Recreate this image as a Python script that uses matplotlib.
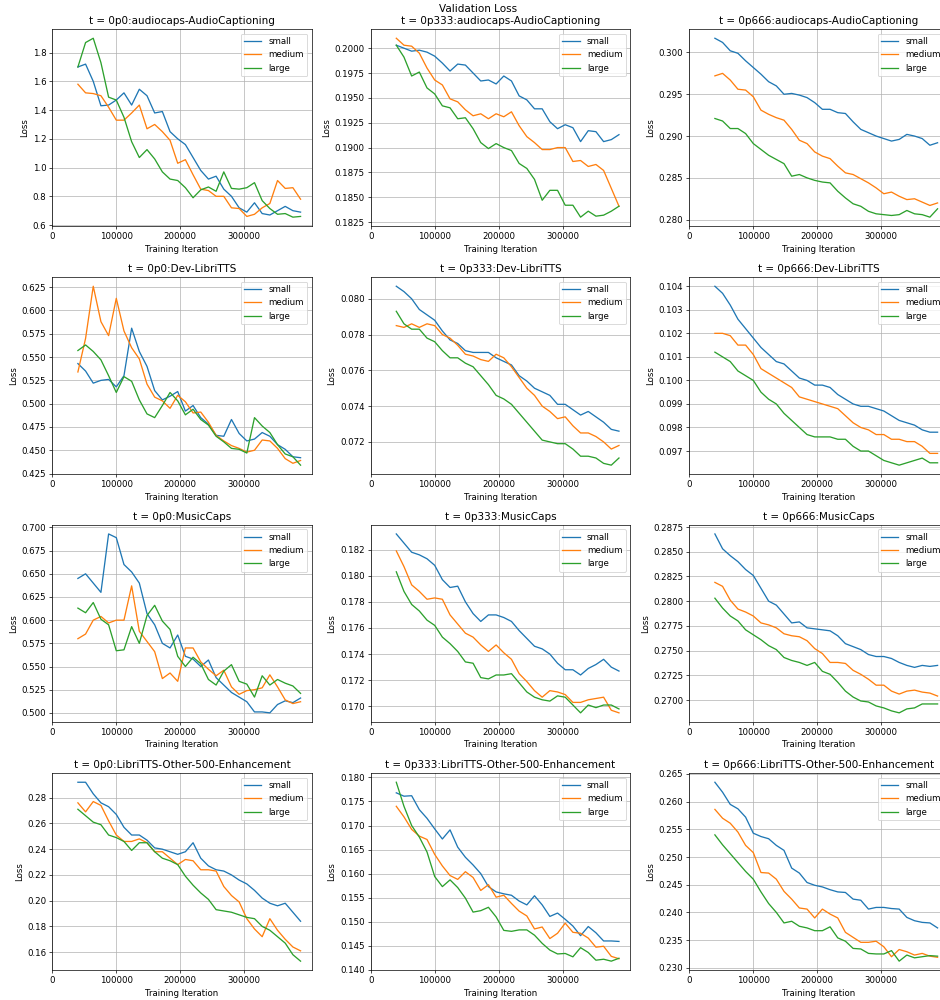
import numpy as np
from matplotlib import pyplot as plt

# Training iterations (shared by every curve)
iterations = [40000 + 12000 * k for k in range(30)]

temperatures = ["0p0", "0p333", "0p666"]
datasets = ["audiocaps-AudioCaptioning", "Dev-LibriTTS", "MusicCaps",
            "LibriTTS-Other-500-Enhancement"]
models = ["small", "medium", "large"]

# audiocaps-AudioCaptioning
audiocaps_0p0_small = [1.70, 1.72, 1.60, 1.43, 1.435, 1.47, 1.52, 1.435, 1.545, 1.50,
                       1.38, 1.39, 1.25, 1.20, 1.16, 1.07, 0.98, 0.92, 0.94, 0.85,
                       0.80, 0.72, 0.69, 0.755, 0.68, 0.67, 0.70, 0.73, 0.70, 0.69]
audiocaps_0p0_medium = [1.58, 1.52, 1.515, 1.50, 1.42, 1.33, 1.33, 1.38, 1.435, 1.27,
                        1.30, 1.25, 1.19, 1.03, 1.055, 0.95, 0.85, 0.84, 0.80, 0.80,
                        0.72, 0.715, 0.66, 0.675, 0.72, 0.75, 0.91, 0.855, 0.86, 0.78]
audiocaps_0p0_large = [1.70, 1.87, 1.90, 1.73, 1.49, 1.47, 1.35, 1.18, 1.07, 1.125,
                       1.06, 0.97, 0.92, 0.91, 0.86, 0.79, 0.845, 0.865, 0.835, 0.97,
                       0.855, 0.85, 0.86, 0.895, 0.77, 0.715, 0.675, 0.68, 0.655, 0.66]

audiocaps_0p333_small = [0.2003, 0.2000, 0.1997, 0.1998, 0.1996, 0.1992, 0.1985, 0.1977,
                         0.1984, 0.1983, 0.1975, 0.1967, 0.1968, 0.1964, 0.1972, 0.1967,
                         0.1952, 0.1948, 0.1939, 0.1939, 0.1926, 0.1919, 0.1923, 0.1920,
                         0.1906, 0.1917, 0.1916, 0.1906, 0.1908, 0.1913]
audiocaps_0p333_medium = [0.2010, 0.2003, 0.2002, 0.1995, 0.1980, 0.1968, 0.1963, 0.1949,
                          0.1946, 0.1938, 0.1932, 0.1934, 0.1929, 0.1934, 0.1931, 0.1936,
                          0.1922, 0.1911, 0.1905, 0.1898, 0.1898, 0.1900, 0.1900, 0.1886,
                          0.1887, 0.1881, 0.1883, 0.1877, 0.1859, 0.1841]
audiocaps_0p333_large = [0.2003, 0.1991, 0.1972, 0.1976, 0.1960, 0.1954, 0.1942, 0.1940,
                         0.1929, 0.1930, 0.1919, 0.1905, 0.1899, 0.1904, 0.1900, 0.1897,
                         0.1884, 0.1879, 0.1868, 0.1847, 0.1857, 0.1857, 0.1842, 0.1842,
                         0.1830, 0.1836, 0.1831, 0.1832, 0.1836, 0.1841]

audiocaps_0p666_small = [0.3017, 0.3012, 0.3002, 0.2999, 0.2990, 0.2982, 0.2974, 0.2965,
                         0.2960, 0.2950, 0.2951, 0.2949, 0.2946, 0.2940, 0.2932, 0.2932,
                         0.2928, 0.2927, 0.2917, 0.2908, 0.2904, 0.2900, 0.2897, 0.2894,
                         0.2896, 0.2902, 0.2900, 0.2897, 0.2889, 0.2892]
audiocaps_0p666_medium = [0.2972, 0.2975, 0.2967, 0.2956, 0.2955, 0.2947, 0.2931, 0.2926,
                          0.2922, 0.2919, 0.2908, 0.2895, 0.2891, 0.2881, 0.2876, 0.2873,
                          0.2864, 0.2856, 0.2854, 0.2849, 0.2844, 0.2838, 0.2831, 0.2833,
                          0.2828, 0.2824, 0.2825, 0.2821, 0.2817, 0.2820]
audiocaps_0p666_large = [0.2921, 0.2918, 0.2909, 0.2909, 0.2903, 0.2891, 0.2884, 0.2877,
                         0.2872, 0.2867, 0.2852, 0.2854, 0.2850, 0.2847, 0.2845, 0.2844,
                         0.2834, 0.2826, 0.2819, 0.2816, 0.2810, 0.2807, 0.2806, 0.2805,
                         0.2806, 0.2811, 0.2807, 0.2806, 0.2803, 0.2813]

# Dev-LibriTTS
devlibri_0p0_small = [0.543, 0.535, 0.522, 0.525, 0.526, 0.518, 0.530, 0.581, 0.556, 0.540,
                      0.514, 0.504, 0.508, 0.513, 0.492, 0.498, 0.485, 0.478, 0.466, 0.465,
                      0.483, 0.468, 0.460, 0.462, 0.469, 0.465, 0.456, 0.451, 0.443, 0.442]
devlibri_0p0_medium = [0.534, 0.570, 0.626, 0.588, 0.573, 0.613, 0.578, 0.560, 0.548, 0.521,
                       0.507, 0.503, 0.495, 0.509, 0.502, 0.490, 0.491, 0.480, 0.466, 0.460,
                       0.455, 0.452, 0.448, 0.450, 0.461, 0.460, 0.452, 0.441, 0.436, 0.439]
devlibri_0p0_large = [0.557, 0.563, 0.556, 0.547, 0.530, 0.512, 0.529, 0.524, 0.504, 0.489,
                      0.485, 0.498, 0.512, 0.503, 0.488, 0.494, 0.483, 0.477, 0.465, 0.459,
                      0.452, 0.451, 0.447, 0.485, 0.476, 0.469, 0.456, 0.446, 0.443, 0.434]

devlibri_0p333_small = [0.0807, 0.0804, 0.0800, 0.0794, 0.0791, 0.0788, 0.0782, 0.0777,
                        0.0775, 0.0771, 0.0770, 0.0770, 0.0770, 0.0767, 0.0765, 0.0763,
                        0.0757, 0.0754, 0.0750, 0.0748, 0.0746, 0.0741, 0.0741, 0.0738,
                        0.0735, 0.0737, 0.0734, 0.0731, 0.0727, 0.0726]
devlibri_0p333_medium = [0.0785, 0.0784, 0.0786, 0.0784, 0.0786, 0.0785, 0.0780, 0.0778,
                         0.0774, 0.0769, 0.0768, 0.0766, 0.0765, 0.0769, 0.0767, 0.0762,
                         0.0756, 0.0750, 0.0746, 0.0740, 0.0737, 0.0733, 0.0734, 0.0729,
                         0.0725, 0.0725, 0.0723, 0.0720, 0.0716, 0.0718]
devlibri_0p333_large = [0.0793, 0.0786, 0.0783, 0.0783, 0.0778, 0.0776, 0.0771, 0.0767,
                        0.0767, 0.0764, 0.0762, 0.0757, 0.0752, 0.0746, 0.0744, 0.0741,
                        0.0736, 0.0731, 0.0726, 0.0721, 0.0720, 0.0719, 0.0719, 0.0716,
                        0.0712, 0.0712, 0.0711, 0.0708, 0.0707, 0.0711]

devlibri_0p666_small = [0.1040, 0.1037, 0.1032, 0.1026, 0.1022, 0.1018, 0.1014, 0.1011,
                        0.1008, 0.1007, 0.1004, 0.1001, 0.1000, 0.0998, 0.0998, 0.0997,
                        0.0994, 0.0992, 0.0990, 0.0989, 0.0989, 0.0988, 0.0987, 0.0985,
                        0.0983, 0.0982, 0.0981, 0.0979, 0.0978, 0.0978]
devlibri_0p666_medium = [0.1020, 0.1020, 0.1019, 0.1015, 0.1015, 0.1011, 0.1005, 0.1003,
                         0.1001, 0.0999, 0.0997, 0.0993, 0.0992, 0.0991, 0.0990, 0.0989,
                         0.0988, 0.0985, 0.0982, 0.0980, 0.0979, 0.0977, 0.0977, 0.0975,
                         0.0975, 0.0974, 0.0974, 0.0972, 0.0969, 0.0969]
devlibri_0p666_large = [0.1012, 0.1010, 0.1008, 0.1004, 0.1002, 0.1000, 0.0995, 0.0992,
                        0.0990, 0.0986, 0.0983, 0.0980, 0.0977, 0.0976, 0.0976, 0.0976,
                        0.0975, 0.0975, 0.0972, 0.0970, 0.0970, 0.0968, 0.0966, 0.0965,
                        0.0964, 0.0965, 0.0966, 0.0967, 0.0965, 0.0965]

# MusicCaps
musiccaps_0p0_small = [0.645, 0.650, 0.640, 0.630, 0.693, 0.689, 0.660, 0.652, 0.640, 0.607,
                       0.595, 0.575, 0.570, 0.584, 0.561, 0.558, 0.550, 0.557, 0.538, 0.530,
                       0.522, 0.517, 0.512, 0.501, 0.501, 0.500, 0.509, 0.513, 0.511, 0.516]
musiccaps_0p0_medium = [0.580, 0.585, 0.600, 0.604, 0.597, 0.600, 0.600, 0.637, 0.588, 0.577,
                        0.566, 0.537, 0.543, 0.534, 0.570, 0.570, 0.555, 0.547, 0.540, 0.546,
                        0.528, 0.520, 0.524, 0.525, 0.527, 0.541, 0.528, 0.514, 0.510, 0.512]
musiccaps_0p0_large = [0.613, 0.608, 0.619, 0.601, 0.595, 0.567, 0.568, 0.593, 0.575, 0.605,
                       0.616, 0.599, 0.590, 0.561, 0.550, 0.560, 0.553, 0.536, 0.530, 0.545,
                       0.552, 0.534, 0.531, 0.517, 0.540, 0.530, 0.536, 0.532, 0.529, 0.521]

musiccaps_0p333_small = [0.1832, 0.1825, 0.1818, 0.1816, 0.1813, 0.1808, 0.1797, 0.1791,
                         0.1792, 0.1780, 0.1771, 0.1765, 0.1770, 0.1770, 0.1768, 0.1765,
                         0.1758, 0.1752, 0.1746, 0.1744, 0.1740, 0.1733, 0.1728, 0.1728,
                         0.1724, 0.1729, 0.1732, 0.1736, 0.1730, 0.1727]
musiccaps_0p333_medium = [0.1819, 0.1807, 0.1793, 0.1788, 0.1782, 0.1783, 0.1782, 0.1770,
                          0.1763, 0.1756, 0.1753, 0.1747, 0.1742, 0.1747, 0.1741, 0.1736,
                          0.1725, 0.1719, 0.1712, 0.1707, 0.1712, 0.1711, 0.1709, 0.1703,
                          0.1703, 0.1705, 0.1706, 0.1707, 0.1697, 0.1695]
musiccaps_0p333_large = [0.1803, 0.1788, 0.1778, 0.1773, 0.1766, 0.1762, 0.1753, 0.1748,
                         0.1742, 0.1734, 0.1733, 0.1722, 0.1721, 0.1724, 0.1724, 0.1725,
                         0.1718, 0.1711, 0.1707, 0.1705, 0.1704, 0.1708, 0.1707, 0.1701,
                         0.1695, 0.1701, 0.1699, 0.1701, 0.1701, 0.1698]

musiccaps_0p666_small = [0.2868, 0.2853, 0.2846, 0.2840, 0.2832, 0.2826, 0.2813, 0.2800,
                         0.2796, 0.2787, 0.2778, 0.2779, 0.2773, 0.2772, 0.2771, 0.2770,
                         0.2765, 0.2757, 0.2754, 0.2751, 0.2746, 0.2744, 0.2744, 0.2742,
                         0.2738, 0.2735, 0.2733, 0.2735, 0.2734, 0.2735]
musiccaps_0p666_medium = [0.2819, 0.2815, 0.2801, 0.2792, 0.2789, 0.2785, 0.2778, 0.2776,
                          0.2773, 0.2767, 0.2765, 0.2764, 0.2760, 0.2752, 0.2747, 0.2738,
                          0.2738, 0.2737, 0.2730, 0.2726, 0.2721, 0.2715, 0.2715, 0.2709,
                          0.2706, 0.2709, 0.2710, 0.2708, 0.2707, 0.2704]
musiccaps_0p666_large = [0.2803, 0.2793, 0.2785, 0.2780, 0.2771, 0.2766, 0.2761, 0.2755,
                         0.2751, 0.2743, 0.2740, 0.2738, 0.2735, 0.2738, 0.2729, 0.2726,
                         0.2718, 0.2709, 0.2703, 0.2699, 0.2698, 0.2694, 0.2692, 0.2689,
                         0.2687, 0.2691, 0.2692, 0.2696, 0.2696, 0.2696]

# LibriTTS-Other-500-Enhancement
enhance_0p0_small = [0.292, 0.292, 0.283, 0.276, 0.273, 0.267, 0.257, 0.251, 0.251, 0.247,
                     0.241, 0.240, 0.238, 0.236, 0.238, 0.245, 0.233, 0.227, 0.224, 0.223,
                     0.220, 0.216, 0.213, 0.208, 0.202, 0.198, 0.196, 0.198, 0.191, 0.184]
enhance_0p0_medium = [0.276, 0.269, 0.277, 0.274, 0.262, 0.251, 0.246, 0.246, 0.248, 0.245,
                      0.238, 0.238, 0.233, 0.228, 0.232, 0.231, 0.224, 0.224, 0.223, 0.211,
                      0.204, 0.199, 0.186, 0.178, 0.172, 0.186, 0.177, 0.170, 0.164, 0.161]
enhance_0p0_large = [0.271, 0.266, 0.261, 0.259, 0.251, 0.249, 0.246, 0.239, 0.245, 0.245,
                     0.238, 0.233, 0.231, 0.228, 0.219, 0.212, 0.206, 0.201, 0.193, 0.192,
                     0.191, 0.189, 0.187, 0.186, 0.180, 0.177, 0.172, 0.167, 0.158, 0.153]

enhance_0p333_small = [0.1768, 0.1761, 0.1762, 0.1733, 0.1715, 0.1693, 0.1672, 0.1691,
                       0.1655, 0.1634, 0.1618, 0.1600, 0.1573, 0.1562, 0.1558, 0.1555,
                       0.1543, 0.1535, 0.1554, 0.1535, 0.1511, 0.1518, 0.1505, 0.1491,
                       0.1471, 0.1490, 0.1477, 0.1460, 0.1460, 0.1459]
enhance_0p333_medium = [0.1740, 0.1718, 0.1692, 0.1678, 0.1671, 0.1640, 0.1616, 0.1596,
                        0.1588, 0.1604, 0.1592, 0.1565, 0.1577, 0.1551, 0.1555, 0.1538,
                        0.1522, 0.1512, 0.1485, 0.1489, 0.1465, 0.1476, 0.1497, 0.1478,
                        0.1476, 0.1466, 0.1447, 0.1449, 0.1428, 0.1423]
enhance_0p333_large = [0.1790, 0.1740, 0.1700, 0.1676, 0.1645, 0.1594, 0.1573, 0.1587,
                       0.1571, 0.1549, 0.1520, 0.1523, 0.1530, 0.1510, 0.1482, 0.1480,
                       0.1483, 0.1483, 0.1472, 0.1455, 0.1441, 0.1433, 0.1434, 0.1427,
                       0.1446, 0.1436, 0.1420, 0.1422, 0.1418, 0.1424]

enhance_0p666_small = [0.2635, 0.2617, 0.2595, 0.2587, 0.2572, 0.2543, 0.2537, 0.2533,
                       0.2521, 0.2512, 0.2480, 0.2471, 0.2454, 0.2449, 0.2446, 0.2441,
                       0.2437, 0.2436, 0.2424, 0.2422, 0.2406, 0.2409, 0.2409, 0.2407,
                       0.2406, 0.2391, 0.2385, 0.2382, 0.2381, 0.2372]
enhance_0p666_medium = [0.2586, 0.2570, 0.2561, 0.2545, 0.2521, 0.2508, 0.2472, 0.2471,
                        0.2460, 0.2438, 0.2424, 0.2408, 0.2406, 0.2390, 0.2406, 0.2397,
                        0.2390, 0.2364, 0.2355, 0.2346, 0.2346, 0.2348, 0.2338, 0.2320,
                        0.2333, 0.2329, 0.2323, 0.2326, 0.2321, 0.2319]
enhance_0p666_large = [0.2540, 0.2522, 0.2506, 0.2490, 0.2474, 0.2460, 0.2437, 0.2416,
                       0.2400, 0.2381, 0.2384, 0.2375, 0.2372, 0.2367, 0.2367, 0.2374,
                       0.2354, 0.2348, 0.2335, 0.2334, 0.2326, 0.2325, 0.2325, 0.2331,
                       0.2312, 0.2323, 0.2318, 0.2320, 0.2322, 0.2321]

# (row, col) -> [small, medium, large]
curves = {
  (0, 0): [audiocaps_0p0_small, audiocaps_0p0_medium, audiocaps_0p0_large],
  (0, 1): [audiocaps_0p333_small, audiocaps_0p333_medium, audiocaps_0p333_large],
  (0, 2): [audiocaps_0p666_small, audiocaps_0p666_medium, audiocaps_0p666_large],
  (1, 0): [devlibri_0p0_small, devlibri_0p0_medium, devlibri_0p0_large],
  (1, 1): [devlibri_0p333_small, devlibri_0p333_medium, devlibri_0p333_large],
  (1, 2): [devlibri_0p666_small, devlibri_0p666_medium, devlibri_0p666_large],
  (2, 0): [musiccaps_0p0_small, musiccaps_0p0_medium, musiccaps_0p0_large],
  (2, 1): [musiccaps_0p333_small, musiccaps_0p333_medium, musiccaps_0p333_large],
  (2, 2): [musiccaps_0p666_small, musiccaps_0p666_medium, musiccaps_0p666_large],
  (3, 0): [enhance_0p0_small, enhance_0p0_medium, enhance_0p0_large],
  (3, 1): [enhance_0p333_small, enhance_0p333_medium, enhance_0p333_large],
  (3, 2): [enhance_0p666_small, enhance_0p666_medium, enhance_0p666_large],
}

# The original figure was rendered large and shrunk, so use a low dpi.
dpi = 62.5
figure = plt.figure(figsize=(940 / dpi, 1000 / dpi))

# Axes boxes in pixels of the 940x1000 output (third column runs off the edge)
col_lefts = [52.3, 370.7, 689.3]
row_tops = [29.3, 277.3, 525.0, 773.3]
ax_w = 259.4
ax_h = 196.8

for (row, col), series in curves.items():
  left = col_lefts[col] / 940
  bottom = 1 - (row_tops[row] + ax_h) / 1000
  axes = figure.add_axes([left, bottom, ax_w / 940, ax_h / 1000])
  for name, values in zip(models, series):
    axes.plot(iterations, values, label=name)
  axes.set_xlim(left=0)
  axes.set_xticks([0, 100000, 200000, 300000])
  axes.grid()
  axes.set_title("t = " + temperatures[col] + ":" + datasets[row])
  axes.set_xlabel("Training Iteration")
  axes.set_ylabel("Loss")
  axes.legend(loc="upper right")

figure.suptitle("Validation Loss", x=478 / 940, y=0.996, va="top")
figure.savefig("out.png", dpi=dpi)
